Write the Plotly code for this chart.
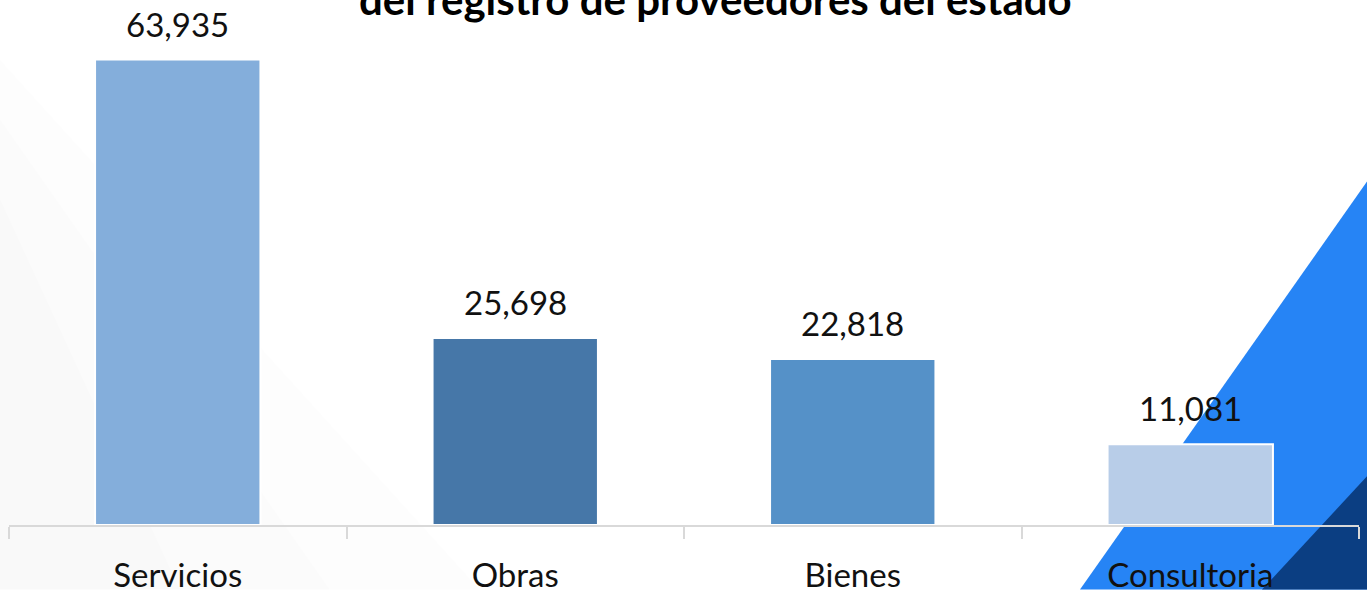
import plotly.graph_objects as go

categories = ["Servicios", "Obras", "Bienes", "Consultoria"]
values = [63935, 25698, 22818, 11081]
bar_colors = ["#84AEDB", "#4677A8", "#5591C8", "#B8CDE8"]
title_text = "del registro de proveedores del estado"

W, H = 1367, 594
ML, MR, MT, MB = 9, 8, 0, 65
PW, PH = W - ML - MR, H - MT - MB

def px(x):
    return (x - ML) / PW

def py(y):
    return (H - MB - y) / PH

fig = go.Figure()
fig.add_trace(go.Bar(
    x=categories, y=values,
    marker=dict(color=bar_colors, line=dict(color="white", width=2)),
    width=0.49, hoverinfo="skip",
))

for c, v in zip(categories, values):
    fig.add_annotation(x=c, y=v, xref="x", yref="y", text=f"{v:,}",
                       showarrow=False, yanchor="bottom", yshift=14,
                       font=dict(family="Lato", size=33, color="#111111"))

fig.add_annotation(x=px(715), y=1, xref="paper", yref="paper",
                   text=f"<b>{title_text}</b>", showarrow=False,
                   yanchor="middle", xanchor="center", yshift=1,
                   font=dict(family="Lato", size=42, color="#000000"))

shapes = []
# very faint left shading (soft diagonal gradient)
for (y_top, x_bot), a in [((60, 480), 0.006), ((120, 330), 0.007), ((200, 180), 0.008)]:
    shapes.append(dict(type="path", xref="paper", yref="paper", layer="below",
                       path=f"M {px(0)} {py(y_top)} L {px(x_bot)} {py(594)} L {px(0)} {py(594)} Z",
                       fillcolor=f"rgba(0,0,0,{a})", line=dict(width=0)))
# bright blue triangle
shapes.append(dict(type="path", xref="paper", yref="paper", layer="below",
                   path=f"M {px(1367)} {py(183)} L {px(1367)} {py(594)} L {px(1080)} {py(594)} Z",
                   fillcolor="#2684F5", line=dict(width=0)))
# dark navy triangle
shapes.append(dict(type="path", xref="paper", yref="paper", layer="below",
                   path=f"M {px(1367)} {py(480)} L {px(1367)} {py(594)} L {px(1262)} {py(594)} Z",
                   fillcolor="#0B3E82", line=dict(width=0)))

fig.update_layout(
    width=W, height=H,
    margin=dict(l=ML, r=MR, t=MT, b=MB, pad=0),
    paper_bgcolor="white", plot_bgcolor="rgba(0,0,0,0)",
    showlegend=False, shapes=shapes,
    xaxis=dict(type="category", range=[-0.5, 3.5], showline=True,
               linecolor="#D9D9D9", linewidth=2, ticks="outside",
               tickson="boundaries", ticklen=12, tickcolor="#D9D9D9",
               tickwidth=2, showgrid=False, zeroline=False,
               ticklabelstandoff=20,
               tickfont=dict(family="Lato", size=33, color="#111111")),
    yaxis=dict(range=[0, values[0] * PH / (529 - 60)], visible=False,
               showgrid=False, zeroline=False),
)

fig.write_html("out.html", config={"displayModeBar": False},
               post_script="document.body.style.margin='0';document.body.style.overflow='hidden';")
